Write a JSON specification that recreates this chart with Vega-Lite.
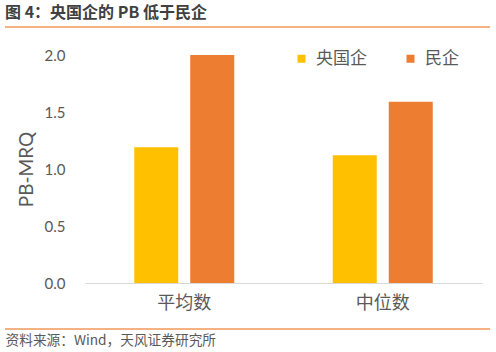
{
  "$schema": "https://vega.github.io/schema/vega-lite/v6.json",
  "width": 397,
  "height": 228,
  "autosize": {"type": "none"},
  "padding": {"left": 85, "top": 55, "right": 14, "bottom": 69},
  "background": "white",
  "config": {"view": {"stroke": null}, "font": "Noto Sans CJK SC"},
  "title": {
    "text": "图 4：央国企的 PB 低于民企",
    "anchor": "start",
    "frame": "group",
    "dx": -80,
    "offset": 5,
    "fontSize": 16,
    "fontWeight": "bold",
    "color": "#404040",
    "font": "Noto Sans CJK SC"
  },
  "layer": [
    {
      "data": {
        "values": [
          {"stat": "平均数", "type": "央国企", "pb": 1.19},
          {"stat": "平均数", "type": "民企", "pb": 2.0},
          {"stat": "中位数", "type": "央国企", "pb": 1.12},
          {"stat": "中位数", "type": "民企", "pb": 1.59}
        ]
      },
      "mark": {"type": "bar"},
      "encoding": {
        "x": {
          "field": "stat",
          "type": "nominal",
          "sort": ["平均数", "中位数"],
          "scale": {"paddingInner": 0, "paddingOuter": 0},
          "axis": {
            "title": "资料来源：Wind，天风证券研究所",
            "labelAngle": 0,
            "domainColor": "#D9D9D9",
            "domainWidth": 1,
            "ticks": false,
            "labelPadding": 11,
            "labelFontSize": 18,
            "labelColor": "#595959",
            "labelFont": "Noto Sans CJK SC",
            "titleX": -80,
            "titleY": 57,
            "titleAlign": "left",
            "titleAnchor": "start",
            "titleBaseline": "middle",
            "titleFontSize": 13.7,
            "titleFontWeight": "normal",
            "titleColor": "#595959",
            "titleFont": "Noto Sans CJK SC"
          }
        },
        "xOffset": {
          "field": "type",
          "sort": ["央国企", "民企"],
          "scale": {"paddingInner": 0.2143, "paddingOuter": 0.8795}
        },
        "y": {
          "field": "pb",
          "type": "quantitative",
          "scale": {"domain": [0, 2], "nice": false},
          "axis": {
            "title": "PB-MRQ",
            "values": [0, 0.5, 1, 1.5, 2],
            "format": ".1f",
            "domain": false,
            "ticks": false,
            "grid": false,
            "labelPadding": 20,
            "labelFontSize": 15,
            "labelColor": "#595959",
            "labelFont": "Lato",
            "titleFontSize": 19,
            "titleFontWeight": "normal",
            "titleColor": "#595959",
            "titleFont": "Lato",
            "titlePadding": 8
          }
        },
        "color": {
          "field": "type",
          "type": "nominal",
          "scale": {"domain": ["央国企", "民企"], "range": ["#FFC000", "#ED7D31"]},
          "legend": {
            "orient": "none",
            "legendX": 208,
            "legendY": -5,
            "direction": "horizontal",
            "title": null,
            "symbolType": "square",
            "symbolSize": 64,
            "symbolStrokeWidth": 0,
            "labelFontSize": 17,
            "labelColor": "#595959",
            "labelFont": "Noto Sans CJK SC",
            "labelOffset": 6,
            "columnPadding": 35
          }
        }
      }
    },
    {
      "data": {"values": [{}]},
      "mark": {"type": "rule", "color": "#F4B183", "strokeWidth": 2},
      "encoding": {
        "x": {"datum": -0.2015, "type": "quantitative", "scale": {"domain": [0, 1], "nice": false, "zero": false}, "axis": null},
        "x2": {"datum": 1.0202},
        "y": {"datum": 2.2456, "type": "quantitative"}
      }
    },
    {
      "data": {"values": [{}]},
      "mark": {"type": "rule", "color": "#F4B183", "strokeWidth": 2},
      "encoding": {
        "x": {"datum": -0.2015, "type": "quantitative", "scale": {"domain": [0, 1], "nice": false, "zero": false}, "axis": null},
        "x2": {"datum": 1.0202},
        "y": {"datum": -0.4035, "type": "quantitative"}
      }
    }
  ],
  "resolve": {"scale": {"x": "independent"}}
}
